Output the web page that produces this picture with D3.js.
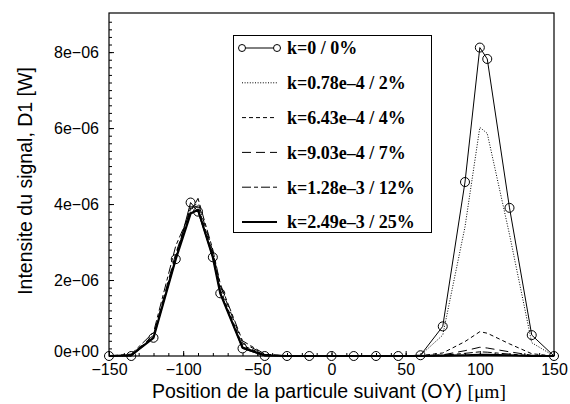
<!DOCTYPE html>
<html>
<head>
<meta charset="utf-8">
<script src="https://cdn.jsdelivr.net/npm/d3@7"></script>
<style>
  html, body { margin: 0; padding: 0; background: #fff; }
  svg { display: block; }
</style>
</head>
<body>
<svg id="chart" width="570" height="404"></svg>
<script>
// Sample positions along OY (µm)
const positions = [-150, -135, -120, -105, -95, -90, -80, -75, -60, -45, -30, -15, 0, 15, 30, 45, 60, 75, 90, 100, 105, 120, 135, 150];

// Signal intensity on detector D1, in units of 1e-6 W
const k0   = [0, 0, 0.48, 2.55, 4.04, 3.80, 2.60, 1.65, 0.20, 0, 0, 0, 0, 0, 0, 0, 0.02, 0.78, 4.58, 8.12, 7.82, 3.90, 0.55, 0];
const k2   = [0, 0, 0.50, 2.60, 3.95, 3.85, 2.65, 1.70, 0.22, 0.02, 0, 0, 0, 0, 0, 0, 0.02, 0.55, 3.40, 6.02, 5.86, 3.20, 0.35, 0];
const k4   = [0, 0.02, 0.52, 2.65, 3.90, 3.95, 2.70, 1.75, 0.28, 0.03, 0, 0, 0, 0, 0, 0, 0.01, 0.08, 0.38, 0.64, 0.60, 0.32, 0.06, 0];
const k7   = [0, 0.03, 0.55, 2.70, 3.85, 4.05, 2.75, 1.85, 0.35, 0.04, 0, 0, 0, 0, 0, 0, 0.01, 0.03, 0.14, 0.23, 0.21, 0.11, 0.02, 0];
const k12  = [0, 0.05, 0.62, 2.90, 3.80, 4.15, 2.80, 1.90, 0.40, 0.05, 0, 0, 0, 0, 0, 0, 0, 0.02, 0.07, 0.11, 0.10, 0.05, 0.01, 0];
const k25  = [0, 0.02, 0.48, 2.55, 3.75, 3.85, 2.60, 1.65, 0.22, 0.02, 0, 0, 0, 0, 0, 0, 0, 0.01, 0.02, 0.03, 0.03, 0.02, 0, 0];

const seriesLabels = ["k=0 / 0%", "k=0.78e–4 / 2%", "k=6.43e–4 / 4%", "k=9.03e–4 / 7%", "k=1.28e–3 / 12%", "k=2.49e–3 / 25%"];

const xTicks = [-150, -100, -50, 0, 50, 100, 150];
const yTicks = [0, 2e-6, 4e-6, 6e-6, 8e-6];
const yTickLabels = ["0e+00", "2e\u221206", "4e\u221206", "6e\u221206", "8e\u221206"];

const series = [
  { label: seriesLabels[0], values: k0,  dash: null,        width: 1,   markers: true },
  { label: seriesLabels[1], values: k2,  dash: "1,1.6",     width: 1,   markers: false },
  { label: seriesLabels[2], values: k4,  dash: "4,3",       width: 1,   markers: false },
  { label: seriesLabels[3], values: k7,  dash: "9,5",       width: 1,   markers: false },
  { label: seriesLabels[4], values: k12, dash: "9,3,4,3",   width: 1,   markers: false },
  { label: seriesLabels[5], values: k25, dash: null,        width: 2.2, markers: false }
];

const svg = d3.select("#chart");
const plotLeft = 109, plotRight = 554, plotTop = 13, plotBottom = 356;

const x = d3.scaleLinear().domain([-150, 150]).range([plotLeft, plotRight]);
const y = d3.scaleLinear().domain([0, 9.03e-6]).range([plotBottom, plotTop]);

// Frame
svg.append("rect")
  .attr("x", plotLeft).attr("y", plotTop)
  .attr("width", plotRight - plotLeft).attr("height", plotBottom - plotTop)
  .attr("fill", "none").attr("stroke", "#000").attr("stroke-width", 1.2);

// Axes: ticks point into the plot area
const xAxis = d3.axisBottom(x).tickValues(xTicks).tickSize(-5).tickPadding(8).tickFormat(d => d < 0 ? "\u2212" + Math.abs(d) : d);
const xMinor = d3.axisBottom(x).tickValues(d3.range(-150, 151, 10)).tickSize(-3).tickFormat("");
const yAxis = d3.axisLeft(y).tickValues(yTicks).tickSize(-5).tickPadding(10).tickFormat((d, i) => yTickLabels[i]);
const yMinor = d3.axisLeft(y).tickValues(d3.range(0, 45).map(i => i * 2e-7)).tickSize(-3).tickFormat("");

function styleAxis(g) {
  g.select(".domain").remove();
  g.selectAll("line").attr("stroke", "#000");
  g.selectAll("text").attr("font-family", "'Liberation Sans', Arial, sans-serif").attr("font-size", 16).attr("fill", "#000");
}

svg.append("g").attr("transform", `translate(0,${plotBottom})`).call(xMinor).call(styleAxis);
svg.append("g").attr("transform", `translate(0,${plotBottom})`).call(xAxis).call(styleAxis);
svg.append("g").attr("transform", `translate(${plotLeft},0)`).call(yMinor).call(styleAxis);
const yg = svg.append("g").attr("transform", `translate(${plotLeft},0)`).call(yAxis).call(styleAxis);
yg.selectAll(".tick").filter(d => d === 0).select("text").attr("dy", "0.0em");

// Series lines
const line = d3.line().x((d, i) => x(positions[i])).y(d => y(d * 1e-6));
const plot = svg.append("g");
series.slice().reverse().forEach(s => {
  plot.append("path")
    .datum(s.values)
    .attr("d", line)
    .attr("fill", "none")
    .attr("stroke", "#000")
    .attr("stroke-width", s.width)
    .attr("stroke-dasharray", s.dash)
    .attr("stroke-linejoin", "round");
  if (s.markers) {
    plot.selectAll(null)
      .data(s.values)
      .enter().append("circle")
      .attr("cx", (d, i) => x(positions[i]))
      .attr("cy", d => y(d * 1e-6))
      .attr("r", 4.5)
      .attr("fill", "none")
      .attr("stroke", "#000")
      .attr("stroke-width", 1);
  }
});

// Legend
const legend = svg.append("g");
legend.append("rect")
  .attr("x", 233.5).attr("y", 35.5).attr("width", 198).attr("height", 197)
  .attr("fill", "#fff").attr("stroke", "#000").attr("stroke-width", 1);
series.forEach((s, i) => {
  const ly = 48 + i * 34.8;
  legend.append("line")
    .attr("x1", 242).attr("x2", 277).attr("y1", ly).attr("y2", ly)
    .attr("stroke", "#000").attr("stroke-width", s.width)
    .attr("stroke-dasharray", s.dash);
  if (s.markers) {
    [242, 277].forEach(cx => legend.append("circle")
      .attr("cx", cx).attr("cy", ly).attr("r", 3.5)
      .attr("fill", "#fff").attr("stroke", "#000"));
  }
  legend.append("text")
    .attr("x", 287).attr("y", ly).attr("dy", "0.35em")
    .attr("font-family", "'Liberation Serif', 'Times New Roman', serif")
    .attr("font-weight", "bold").attr("font-size", 18)
    .text(s.label);
});

// Axis titles
const xt = svg.append("text")
  .attr("x", 329).attr("y", 398)
  .attr("text-anchor", "middle")
  .attr("font-family", "'Liberation Sans', Arial, sans-serif").attr("font-size", 19.5);
xt.append("tspan").text("Position de la particule suivant (OY) ");
xt.append("tspan").attr("font-family", "'Liberation Serif', 'Times New Roman', serif").text("[\u03bcm]");

svg.append("text")
  .attr("transform", "translate(32,181) rotate(-90)")
  .attr("text-anchor", "middle")
  .attr("font-family", "'Liberation Sans', Arial, sans-serif").attr("font-size", 19.5)
  .text("Intensite du signal, D1 [W]");
</script>
</body>
</html>
